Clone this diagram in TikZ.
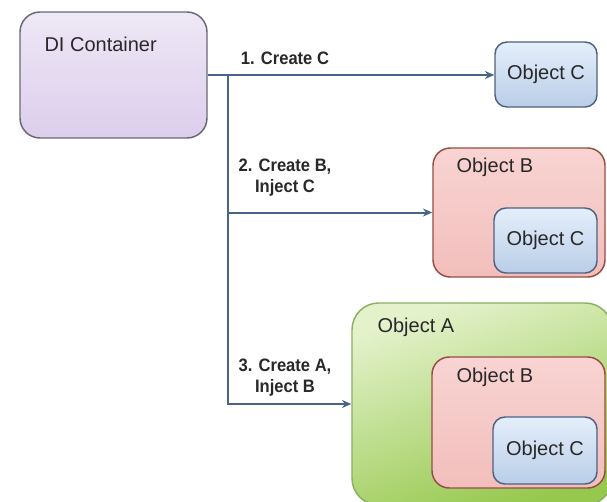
\documentclass[tikz,border=0pt]{standalone}
\usepackage{fontspec}
\setmainfont{Liberation Sans}
\newfontfamily\lblfont{Liberation Sans}[FakeStretch=0.92]
\usetikzlibrary{arrows.meta}
\definecolor{diTop}{RGB}{238,232,246}
\definecolor{diBot}{RGB}{220,206,236}
\definecolor{diLine}{RGB}{105,105,118}
\definecolor{cTop}{RGB}{228,238,250}
\definecolor{cBot}{RGB}{186,206,232}
\definecolor{cLine}{RGB}{78,98,128}
\definecolor{bTop}{RGB}{248,212,210}
\definecolor{bBot}{RGB}{242,190,188}
\definecolor{bLine}{RGB}{150,78,68}
\definecolor{aTop}{RGB}{228,242,204}
\definecolor{aBot}{RGB}{150,200,78}
\definecolor{aLine}{RGB}{138,176,96}
\definecolor{arrowCol}{RGB}{72,100,135}
\definecolor{txt}{RGB}{40,40,40}
\begin{document}
\begin{tikzpicture}[x=0.75pt,y=-0.75pt,
  box/.style={draw, line width=1.1pt, inner sep=0pt, text=txt},
  dibox/.style={box, draw=diLine, top color=diTop, bottom color=diBot, rounded corners=15pt},
  cbox/.style={box, draw=cLine, top color=cTop, bottom color=cBot, rounded corners=9pt,
    font=\fontsize{15}{18}\selectfont},
  bbox/.style={box, draw=bLine, top color=bTop, bottom color=bBot, rounded corners=13pt},
  abox/.style={box, draw=aLine, top color=aTop, bottom color=aBot, shading angle=20, rounded corners=20pt},
  title/.style={anchor=west, inner sep=0pt, text=txt, font=\fontsize{15}{18}\selectfont},
  lbl/.style={align=center, inner sep=0pt, text=txt, font=\lblfont\bfseries\fontsize{13.5}{15.75}\selectfont},
  conn/.style={draw=arrowCol, line width=1.5pt, -{Stealth[length=7pt,width=6pt]}}
]
\useasboundingbox (0,0) rectangle (607,501);
\fill[white] (0,0) rectangle (607,501);
\clip (0,0) rectangle (607,501);

% DI container
\node[dibox, minimum width=140.25pt, minimum height=94.5pt] (di) at (113.5,75) {};
\node[title] (ditxt) at ([shift={(25,33)}]di.north west) {DI Container};

% Object C (top)
\node[cbox, minimum width=76.5pt, minimum height=48.75pt] (c1) at (546,74.5) {Object C};

% Object B with C
\node[bbox, minimum width=129pt, minimum height=96.75pt] (b1) at (519,212.5) {};
\node[title] (b1txt) at ([shift={(24,20)}]b1.north west) {Object B};
\node[cbox, minimum width=77.25pt, minimum height=48.75pt] (c2) at (545.5,240.5) {Object C};

% Object A with B with C
\node[abox, minimum width=195pt, minimum height=151.5pt] (a) at (482,404) {};
\node[title] (atxt) at ([shift={(26,25)}]a.north west) {Object A};
\node[bbox, minimum width=129.75pt, minimum height=98.25pt] (b3) at (518.5,422.5) {};
\node[title] (b3txt) at ([shift={(25,21)}]b3.north west) {Object B};
\node[cbox, minimum width=78pt, minimum height=50.25pt] (c3) at (545,450.5) {Object C};

% connectors
\coordinate (j) at (228,75);
\draw[conn] (di.east) -- (di.east -| c1.west);
\draw[conn] (j) |- (b1.west);
\draw[conn] (j) |- (a.west);

% labels
\node[lbl] (l1) at (285,58) {1. Create C};
\node[lbl] (l2) at (285,177.5) {2. Create B,\\Inject C};
\node[lbl] (l3) at (285,378) {3. Create A,\\Inject B};
\end{tikzpicture}
\end{document}
